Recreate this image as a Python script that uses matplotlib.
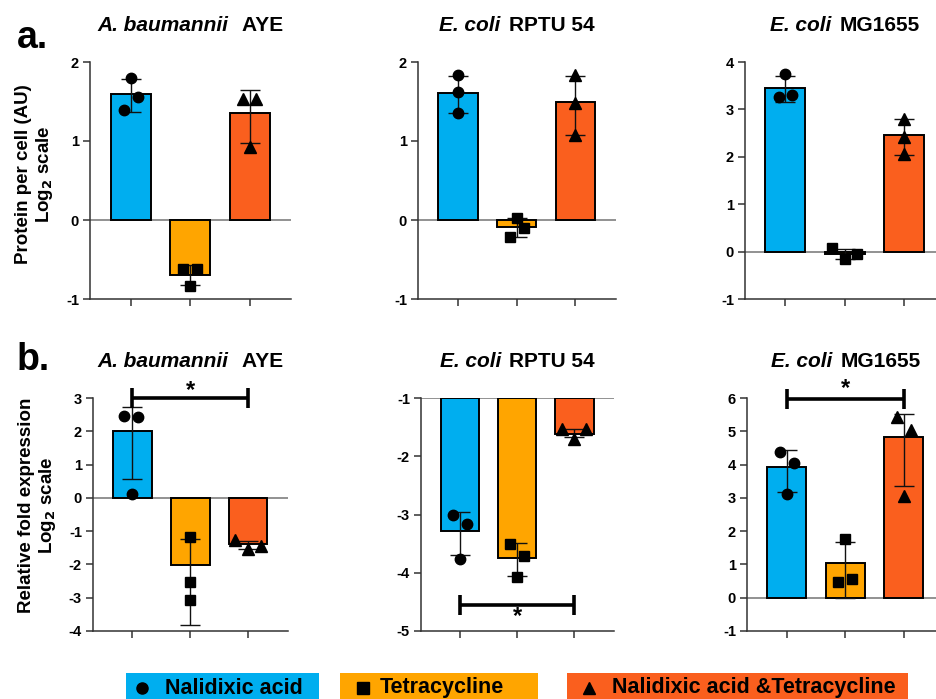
import matplotlib
matplotlib.use('Agg')
import matplotlib.pyplot as plt
from matplotlib.offsetbox import TextArea, HPacker, AnchoredOffsetbox
from matplotlib.patches import Rectangle
from matplotlib.lines import Line2D

plt.rcParams['font.family'] = ['Liberation Sans', 'DejaVu Sans']
plt.rcParams['font.weight'] = 'bold'
plt.rcParams['axes.unicode_minus'] = False

# ---------------- data ----------------
treatments = ['Nalidixic acid', 'Tetracycline', 'Nalidixic acid &Tetracycline']
colors = ['#00AEEF', '#FFA500', '#FA5F1E']
markers = ['o', 's', '^']

strain_italic = ['A. baumannii', 'E. coli', 'E. coli']
strain_name = [' AYE', 'RPTU 54', 'MG1655']

# Panel a: protein per cell (log2)
a_means = [[1.59, -0.69, 1.35], [1.61, -0.09, 1.49], [3.45, -0.05, 2.45]]
a_err_lo = [[1.37, -0.82, 0.97], [1.35, -0.22, 1.08], [3.16, -0.15, 2.03]]
a_err_hi = [[1.78, -0.57, 1.65], [1.82, 0.03, 1.82], [3.71, 0.06, 2.80]]
a_points = [
    [[1.80, 1.56, 1.39], [-0.62, -0.62, -0.83], [1.53, 1.53, 0.93]],
    [[1.83, 1.62, 1.35], [0.02, -0.10, -0.22], [1.83, 1.48, 1.08]],
    [[3.75, 3.31, 3.27], [0.07, -0.15, -0.06], [2.79, 2.41, 2.05]],
]
a_jitter = [
    [[0.0, 0.12, -0.11], [-0.12, 0.11, 0.0], [-0.11, 0.11, 0.0]],
    [[0.0, 0.0, 0.0], [0.0, 0.12, -0.12], [0.0, 0.0, 0.0]],
    [[0.0, 0.11, -0.11], [-0.21, 0.0, 0.21], [0.0, 0.0, 0.0]],
]
a_ylims = [(-1, 2), (-1, 2), (-1, 4)]
a_baseline = [0, 0, 0]

# Panel b: relative fold expression (log2)
b_means = [[2.02, -2.03, -1.40], [-3.28, -3.75, -1.61], [3.94, 1.04, 4.83]]
b_err_lo = [[0.57, -3.83, -1.54], [-3.70, -4.06, -1.67], [3.19, -0.02, 3.36]]
b_err_hi = [[2.72, -1.25, -1.30], [-2.96, -3.49, -1.53], [4.43, 1.68, 5.53]]
b_points = [
    [[2.46, 2.44, 0.12], [-1.18, -2.53, -3.08], [-1.28, -1.53, -1.45]],
    [[-3.01, -3.17, -3.76], [-3.51, -3.72, -4.07], [-1.54, -1.70, -1.54]],
    [[4.38, 4.05, 3.11], [1.76, 0.48, 0.57], [5.44, 5.03, 3.06]],
]
b_jitter = [
    [[-0.15, 0.09, 0.0], [0.0, 0.0, 0.0], [-0.22, 0.0, 0.22]],
    [[-0.12, 0.12, 0.0], [-0.13, 0.12, 0.0], [-0.22, 0.0, 0.2]],
    [[-0.12, 0.12, 0.0], [0.0, -0.12, 0.12], [-0.12, 0.12, 0.0]],
]
b_ylims = [(-4, 3), (-5, -1), (-1, 6)]
b_baseline = [0, -1, 0]
# significance brackets: (y level, cap half-height, star y)
b_sig = [(3.0, 0.3, 3.22), (-4.55, 0.17, -4.75), (5.97, 0.3, 6.27)]

W, H = 936, 699
fig = plt.figure(figsize=(W / 100, H / 100), dpi=100)


def fx(px):
    return px / W


def fy(py):
    return 1 - py / H


AX = '#333333'


def make_panel(left_px, right_px, top_px, bottom_px, means, lo, hi, pts, jit,
               ylim, baseline, italic, name, sig=None):
    ax = fig.add_axes([fx(left_px), fy(bottom_px),
                       fx(right_px) - fx(left_px), fy(top_px) - fy(bottom_px)])
    x = [0, 1, 2]
    for i in range(3):
        ax.bar(x[i], means[i] - baseline, bottom=baseline, width=0.67,
               color=colors[i], edgecolor='black', linewidth=1.4, zorder=2)
        mid = (lo[i] + hi[i]) / 2
        half = (hi[i] - lo[i]) / 2
        ax.errorbar(x[i], mid, yerr=half, fmt='none', ecolor='#111111',
                    elinewidth=1.0, capsize=7, capthick=1.0, zorder=3)
        for v, j in zip(pts[i], jit[i]):
            ax.plot(x[i] + j, v, marker=markers[i], color='black',
                    markersize=7.5 if markers[i] != '^' else 8, linestyle='none',
                    zorder=4, clip_on=False)
    ax.axhline(baseline, color='#7f7f7f', linewidth=1.2, zorder=1)
    ax.set_xlim(-0.68, 2.69)
    ax.set_ylim(*ylim)
    ax.set_yticks(range(ylim[0], ylim[1] + 1))
    ax.set_xticks(x)
    ax.set_xticklabels([])
    for s in ['top', 'right']:
        ax.spines[s].set_visible(False)
    for s in ['left', 'bottom']:
        ax.spines[s].set_color(AX)
        ax.spines[s].set_linewidth(1.1)
    ax.tick_params(axis='both', colors=AX, width=1.1, length=5,
                   labelcolor='black', labelsize=10.5, pad=3)
    for t in ax.get_yticklabels():
        t.set_fontweight('bold')
    # title
    t1 = TextArea(italic, textprops=dict(fontstyle='italic', fontweight='bold',
                                         size=15, color='black'))
    t2 = TextArea(name, textprops=dict(fontweight='bold', size=15, color='black'))
    box = HPacker(children=[t1, t2], align='baseline', pad=0, sep=6)
    h = bottom_px - top_px
    ab = AnchoredOffsetbox(loc='lower center', child=box, pad=0, borderpad=0,
                           frameon=False, bbox_to_anchor=(0.5, 1 + 27 / h),
                           bbox_transform=ax.transAxes)
    ax.add_artist(ab)
    if sig is not None:
        yl, ch, ys = sig
        ax.plot([0, 2], [yl, yl], color='black', linewidth=2.6, clip_on=False,
                solid_capstyle='butt', zorder=5)
        for xx in (0, 2):
            ax.plot([xx, xx], [yl - ch, yl + ch], color='black', linewidth=2.6,
                    clip_on=False, solid_capstyle='butt', zorder=5)
        ax.text(1, ys, '*', ha='center', va='center', fontsize=17,
                fontweight='bold', clip_on=False)
    return ax


cols_a = [(90, 291), (418, 616), (745, 945)]
cols_b = [(93, 288), (421, 614), (747, 944)]
for k in range(3):
    make_panel(cols_a[k][0], cols_a[k][1], 62, 299, a_means[k], a_err_lo[k],
               a_err_hi[k], a_points[k], a_jitter[k], a_ylims[k], a_baseline[k],
               strain_italic[k], strain_name[k])
    make_panel(cols_b[k][0], cols_b[k][1], 398, 631, b_means[k], b_err_lo[k],
               b_err_hi[k], b_points[k], b_jitter[k], b_ylims[k], b_baseline[k],
               strain_italic[k], strain_name[k], sig=b_sig[k])

# panel letters
fig.text(fx(17), fy(48), 'a.', fontsize=27, fontweight='bold', ha='left', va='baseline')
fig.text(fx(17), fy(370), 'b.', fontsize=27, fontweight='bold', ha='left', va='baseline')

# y labels
fig.text(fx(35), fy(174), 'Protein per cell (AU)\nLog$_\\mathbf{2}$ scale', rotation=90,
         ha='center', va='center', multialignment='center', fontsize=13.5,
         fontweight='bold', linespacing=1.1)
fig.text(fx(38), fy(505), 'Relative fold expression\nLog$_\\mathbf{2}$ scale', rotation=90,
         ha='center', va='center', multialignment='center', fontsize=13.5,
         fontweight='bold', linespacing=1.1)

# legend boxes
leg_boxes = [(126, 319), (340, 538), (567, 908)]
leg_marker_x = [142, 363, 589]
leg_text_x = [165, 380, 612]
for i in range(3):
    x0, x1 = leg_boxes[i]
    fig.add_artist(Rectangle((fx(x0), fy(705)), fx(x1) - fx(x0), fy(673) - fy(705),
                             transform=fig.transFigure, facecolor=colors[i],
                             edgecolor='none'))
    fig.add_artist(Line2D([fx(leg_marker_x[i])], [fy(688)], marker=markers[i],
                          color='black', markersize=8, linestyle='none',
                          transform=fig.transFigure))
    fig.text(fx(leg_text_x[i]), fy(688), treatments[i], fontsize=15.5,
             fontweight='bold', ha='left', va='center')

fig.savefig('out.png', dpi=100)
